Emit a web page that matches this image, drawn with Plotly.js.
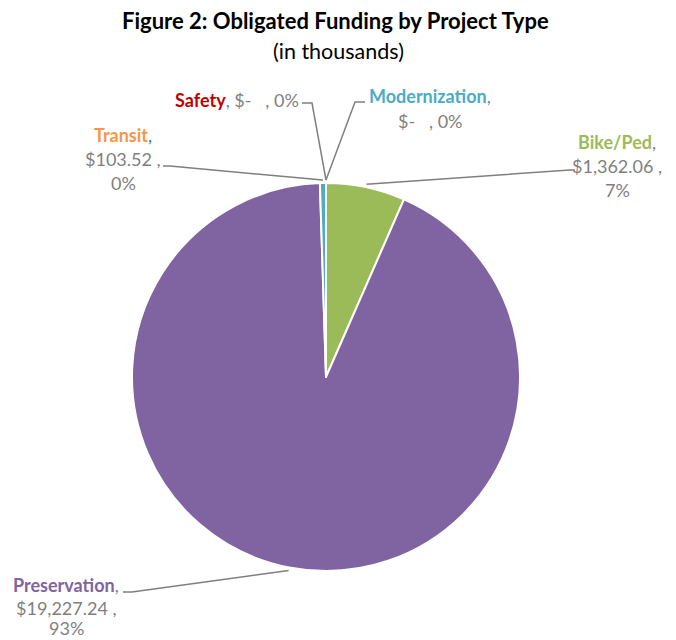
<!DOCTYPE html>
<html>
<head>
<meta charset="utf-8">
<script src="https://cdn.plot.ly/plotly-3.0.1.min.js"></script>
<style>html,body{margin:0;padding:0;background:#fff;}#chart{width:676px;height:640px;}</style>
</head>
<body>
<div id="chart"></div>
<script>
// ---- data ----
const categories = ["Bike/Ped", "Preservation", "Transit", "Safety", "Modernization"];
const values = [1362.06, 19227.24, 103.52, 0, 0];
const pctLabels = ["7%", "93%", "0%", "0%", "0%"];
const sliceColors = ["#9BBB59", "#8064A2", "#4BACC6", "#C0504D", "#4BACC6"];
const nameColors = ["#9BBB59", "#8064A2", "#F79646", "#C00000", "#4BACC6"];
const titleText = "Figure 2: Obligated Funding by Project Type";
const subtitleText = "(in thousands)";

// ---- layout helpers (pixel -> paper) ----
const W = 676, H = 640;
const px = x => x / W;
const py = y => 1 - y / H;
const cx = 326, cy = 377, R = 194;

const total = values.reduce((a, b) => a + b, 0);
function fmtVal(v) {
  if (v === 0) return "$-\u00a0\u00a0\u00a0";
  return "$" + v.toLocaleString("en-US", {minimumFractionDigits: 2, maximumFractionDigits: 2}) + "\u00a0";
}

const GRAY = "#7F7F7F";
const labelLayout = {
  "Bike/Ped":      {x: 617, ys: [142, 166, 190], split: 3},
  "Preservation":  {x: 66,  ys: [585, 608, 628], split: 3},
  "Transit":       {x: 123, ys: [135, 159, 183], split: 3},
  "Safety":        {x: 237, ys: [100], split: 1},
  "Modernization": {x: 430, ys: [96, 121], split: 2}
};
const leaderPts = {
  "Bike/Ped":     [[575, 170], [570, 170]],
  "Preservation": [[123, 592], [132, 592]],
  "Transit":      [[163, 166], [170, 166]],
  "Safety":       [[302, 103], [312, 103]],
  "Modernization":[[365, 102], [355, 102]]
};

const annotations = [];
const shapes = [];
const font = "Lato, 'Open Sans', sans-serif";

annotations.push({text: "<b>" + titleText + "</b>", x: px(335), y: py(20), xref: "paper", yref: "paper",
  showarrow: false, xanchor: "center", yanchor: "middle", font: {family: font, size: 22, color: "#000"}});
annotations.push({text: subtitleText, x: px(338), y: py(51), xref: "paper", yref: "paper",
  showarrow: false, xanchor: "center", yanchor: "middle", font: {family: font, size: 21.5, color: "#000"}});

let cum = 0;
categories.forEach((c, i) => {
  const v = values[i];
  const mid = (cum + v / 2) / total * 2 * Math.PI;
  cum += v;
  const L = labelLayout[c];
  const commaColor = c === "Transit" ? "#2E75B6" : GRAY;
  const nameHtml = "<b><span style='color:" + nameColors[i] + "'>" + c + "</span></b><span style='color:" + commaColor + "'>,</span>";
  let lines;
  if (L.split === 3) lines = [nameHtml, fmtVal(v) + ",", pctLabels[i]];
  else if (L.split === 2) lines = [nameHtml, fmtVal(v) + ", " + pctLabels[i]];
  else lines = [nameHtml + " " + fmtVal(v) + ", " + pctLabels[i]];
  lines.forEach((t, k) => {
    annotations.push({text: t, x: px(L.x), y: py(L.ys[k]), xref: "paper", yref: "paper",
      showarrow: false, xanchor: "center", yanchor: "middle",
      font: {family: font, size: 18, color: GRAY}});
  });
  const ax = cx + (R + 3) * Math.sin(mid);
  const ay = cy - (R + 3) * Math.cos(mid);
  const p = leaderPts[c];
  const path = "M" + px(p[0][0]) + "," + py(p[0][1]) + " L" + px(p[1][0]) + "," + py(p[1][1]) +
               " L" + px(ax) + "," + py(ay);
  shapes.push({type: "path", xref: "paper", yref: "paper", path: path,
    line: {color: GRAY, width: 1.5}});
});

const trace = {
  type: "pie",
  labels: categories,
  values: values,
  sort: false,
  direction: "clockwise",
  rotation: 0,
  textinfo: "none",
  hoverinfo: "label+value+percent",
  marker: {colors: sliceColors, line: {color: "#FFFFFF", width: 2}},
  domain: {x: [px(cx - R), px(cx + R)], y: [py(cy + R), py(cy - R)]},
  showlegend: false
};

const layout = {
  width: W, height: H,
  margin: {l: 0, r: 0, t: 0, b: 0},
  paper_bgcolor: "#FFFFFF",
  plot_bgcolor: "#FFFFFF",
  showlegend: false,
  annotations: annotations,
  shapes: shapes
};

Plotly.newPlot("chart", [trace], layout, {displayModeBar: false, staticPlot: true});
</script>
</body>
</html>
